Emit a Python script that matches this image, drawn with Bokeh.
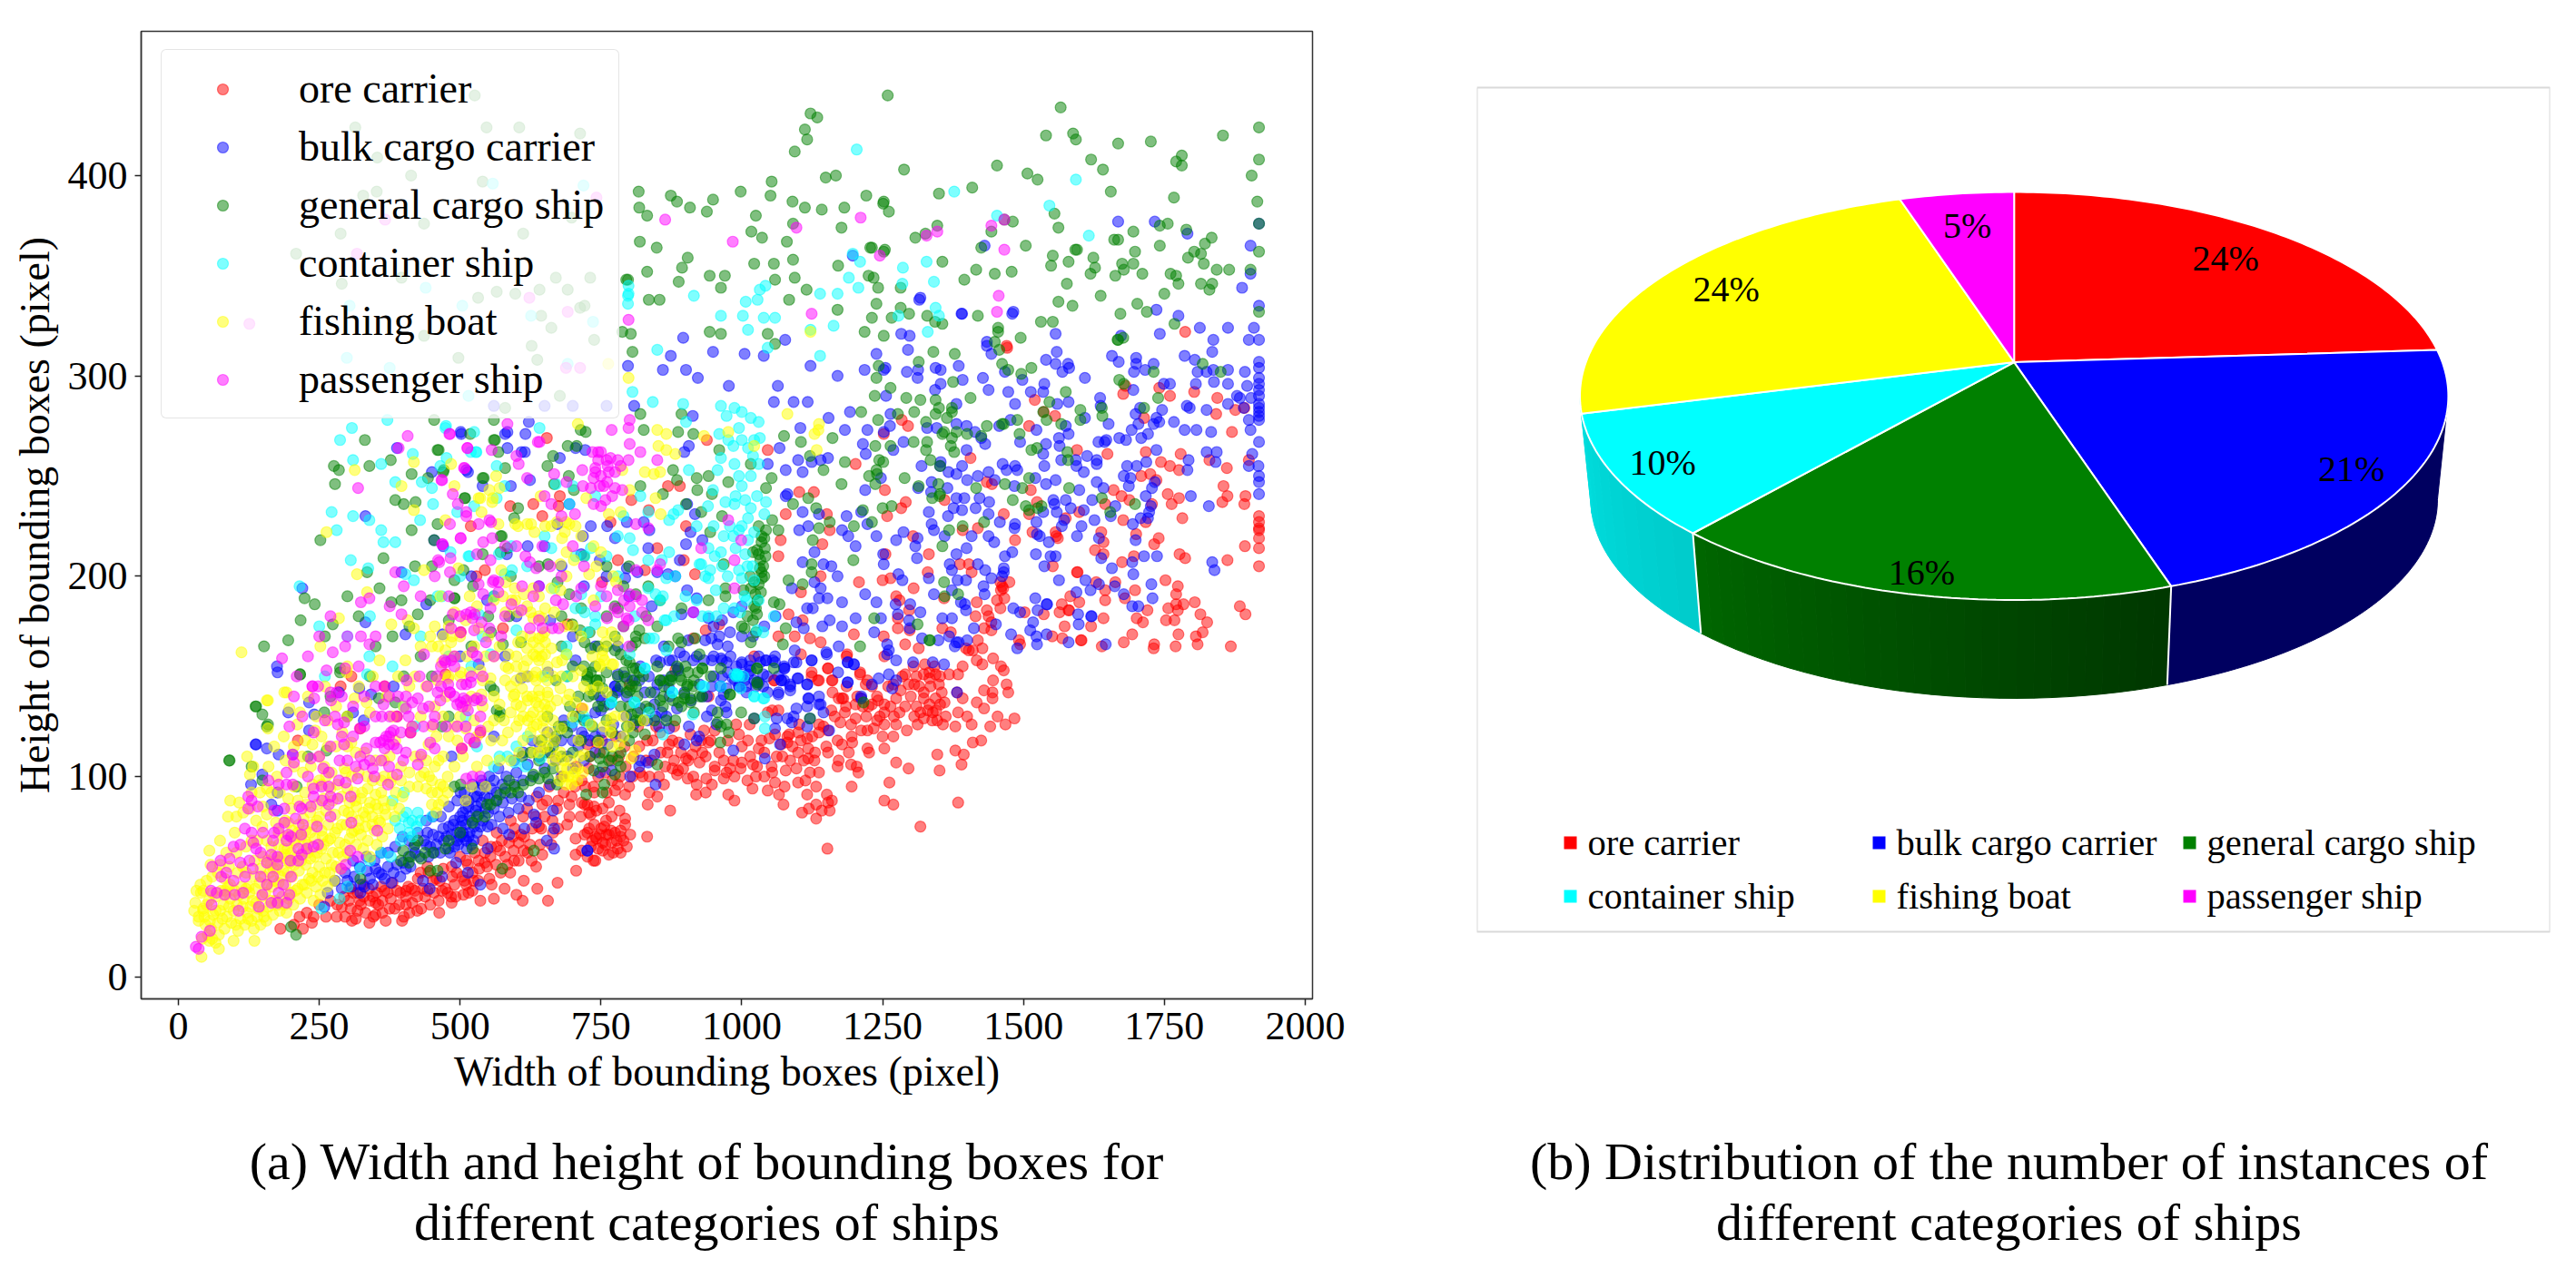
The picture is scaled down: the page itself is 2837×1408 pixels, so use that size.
import math
from bokeh.plotting import figure
from bokeh.layouts import row, column
from bokeh.embed import file_html
from bokeh.resources import INLINE
from bokeh.models import Range1d, Legend, LegendItem, ColumnDataSource, FixedTicker
from bokeh.core.properties import value

CATEGORIES = ["ore carrier", "bulk cargo carrier", "general cargo ship", "container ship", "fishing boat", "passenger ship"]
COLORS = ["#ff0000", "#0000ff", "#008000", "#00ffff", "#ffff00", "#ff00ff"]
PIE_SHARES = [24, 21, 16.4, 9.6, 24, 5]
PIE_LABELS = ["24%", "21%", "16%", "10%", "24%", "5%"]
X_TICKS = [0, 250, 500, 750, 1000, 1250, 1500, 1750, 2000]
Y_TICKS = [0, 100, 200, 300, 400]
CAPTIONS_A = ["(a) Width and height of bounding boxes for", "different categories of ships"]
CAPTIONS_B = ["(b) Distribution of the number of instances of", "different categories of ships"]

ORE = [(1787,322),(1470,315),(1471,314),(1520,288),(1536,282),(1556,280),(1677,291),(1681,295),(1741,294),(1760,290),(1803,292),(1844,289),(1842,281),(1876,283),(1892,284),(1870,272),(1714,279),(1284,278),(1295,275),(1252,271),(1510,275),(1595,263),(1649,261),(1717,262),(1779,261),(1744,257),(1760,255),(1776,253),(1830,258),(1861,254),(1900,258),(1406,259),(1709,250),(1725,251),(1736,248),(1435,247),(1444,246),(1254,243),(1513,243),(1660,243),(1674,240),(1688,238),(1645,236),(1728,236),(1756,241),(1776,239),(1763,236),(1855,245),(1862,240),(1853,237),(1894,240),(1892,236),(1360,238),(1291,237),(1283,234),(1258,230),(1524,237),(1465,231),(1510,231),(1599,232),(1575,229),(1677,228),(1782,229),(1717,227),(1918,230),(1918,227),(1918,224),(1918,223),(1918,219),(1918,214),(1918,205),(1893,215),(1392,223),(1419,224),(1304,220),(1516,222),(1557,222),(1558,220),(1561,219),(1485,218),(1638,222),(1700,221),(1740,219),(1732,216),(1642,217),(1627,213),(1642,211),(1332,211),(1255,211),(1777,211),(1787,209),(1862,208),(1675,207),(1696,210),(1387,206),(1403,206),(1408,202),(1330,202),(1552,205),(1595,202),(1596,202),(1250,198),(1264,199),(1305,194),(1629,197),(1663,197),(1752,198),(1774,195),(1459,197),(1475,197),(1462,195),(1464,194),(1460,193),(1645,193),(1698,193),(1771,191),(1359,189),(1274,190),(1280,188),(1417,187),(1453,188),(1466,189),(1583,190),(1645,188),(1680,189),(1804,187),(1599,187),(1568,186),(1884,185),(1784,186),(1771,186),(1297,183),(1435,183),(1459,184),(1580,183),(1581,183),(1564,182),(1720,183),(1757,184),(1774,183),(1814,181),(1894,181),(1502,182),(1438,180),(1415,180),(1536,181),(1701,179),(1712,177),(1753,178),(1768,178),(1826,177),(1642,179),(1620,175),(1573,175),(1277,179),(1277,174),(1298,173),(1356,174),(1443,177),(1430,174),(1443,173),(1693,171),(1775,171),(1818,172),(1806,170),(1809,166),(1551,170),(1569,169),(1602,168),(1603,168),(1678,167),(1732,166),(1731,164),(1770,165),(1868,165),(1639,165),(1492,168),(1494,166),(1419,168),(1371,172),(1290,166),(1427,164),(1403,163),(1410,163),(1398,164),(1314,164),(1252,170),
(1153,154),(1186,160),(1137,148),(1124,152),(1160,148),(1210,151),(1223,148),(1253,160),(1290,151),(1296,146),(1282,143),(1323,151),(1333,152),(1344,151),(1333,149),(1368,151),(1384,151),(1392,155),(1417,158),(1427,156),(1446,159),(1465,153),(1460,155),(1446,148),(1470,146),(1473,142),(1430,143),(1445,142),(1445,139),(1392,139),(1382,142),(1350,146),(1355,142),(1323,142),(1323,139),(1344,139),(1360,137),(1333,136),(1352,136),(1274,139),(1264,135),(1242,138),(1231,136),(1253,136),(1280,132),(1253,132),(1245,130),(1306,130),(1323,129),(1317,132),(1347,128),(1339,132),(1357,126),(1379,125),(1384,132),(1400,130),(1408,126),(1417,137),(1430,134),(1454,130),(1441,125),(1468,126),(1484,129),(1312,126),(1293,123),(1269,120),(1250,120),(1274,126),(1253,126),(1223,123),(1212,123),(1234,124),(1202,129),(1221,130),(1183,132),(1180,139),(1172,139),(1161,142),(1202,136),(1194,126),(1175,127),(1153,123),(1137,122),(1178,116),(1196,117),(1190,112),(1223,114),(1226,112),(1253,114),(1274,107),(1296,104),(1153,112),(1172,108),(1170,105),(1194,106),(1204,105),(1207,102),(1195,95),(1262,97),(1253,88),(1269,86),(1317,75),(1384,87),(1152,64),(1347,111),(1379,113),(1394,111),(1390,106),(1351,103),(1410,117),(1425,118),
(990,126),(995,121),(1014,126),(1011,118),(1035,118),(1030,114),(1049,119),(1059,121),(1081,120),(1070,116),(1105,118),(1116,119),(1100,112),(1118,114),(1086,108),(1118,109),(1129,108),(1053,105),(1027,105),(1054,102),(1078,103),(1097,104),(1121,102),(1137,102),(1059,97),(1076,95),(1100,97),(1113,98),(1132,95),(1046,93),(1066,91),(1116,91),(1151,91),(1160,88),(1153,87),(1074,86),(1132,86),(1119,84),(1107,82),(1142,83),(1156,83),(1132,79),(1025,100),(1010,98),(1019,94),(987,88),(976,91),(947,96),(936,92),(919,91),(920,96),(904,99),(914,100),(937,99),(968,99),(987,100),(973,102),(998,104),(979,104),(1000,107),(952,105),(952,103),(968,108),(936,110),(925,107),(901,109),(912,111),(887,103),(877,104),(885,101),(896,104),(853,100),(836,100),(862,96),(836,92),(850,90),(833,86),(873,83),(819,102),(877,118),(871,116),(888,117),(909,121),(933,123),(941,117),(952,123),(928,118),(1058,148),(1054,133),(1065,133),(1046,132),(1081,117),(1084,121),(1102,126),(1137,126),(1159,133),(1135,148),(1186,145),(1212,139),(1231,145),(1269,146),(1306,146),
(793,91),(775,93),(780,96),(764,87),(753,84),(729,82),(742,83),(721,86),(783,83),(769,80),(793,79),(759,78),(793,76),(802,71),(832,70),(785,70),(775,72),(764,71),(748,71),(740,70),(729,74),(721,71),(769,67),(753,67),(780,64),(796,65),(764,61),(740,58),(753,63),(732,65),(726,60),(756,75),(785,73),
(673,47),(656,38),(706,53),(637,44),(613,48),(600,41),(611,38),(589,52),(579,44),(560,39),(536,38),(552,49),(544,57),(522,52),(511,46),(506,41),(522,43),(635,55),(627,58),(646,61),(613,63),(595,63),(571,63),(555,65),(533,58),(485,37),(463,32),(431,34),(410,32),(397,28),(362,32),(350,31),(339,27),(308,28),(281,30),(318,33),(302,38),(324,36),(350,37),(377,39),(404,40),(420,43),(388,43),(366,43),(345,40),(329,40),(310,42),(442,43),(468,43),(490,46),(458,49),(485,55),(511,58),(442,55),(425,49),(404,43),(694,80),(672,84),(646,86),(619,84),(705,69),(726,72),(742,69),(716,63),(737,58),(705,61),(662,66),(640,75),(608,71),(587,67),(565,65),(597,74),(726,86),(737,95),(716,87),(732,81),(221,24),(237,27),(181,24),
(654,269),(938,268),(1046,263),(1202,256),(1078,231),(1102,242),(1128,242),(1151,231),(1156,223),(1143,216),(890,245),(869,245),(804,238),(835,233),(767,227),(589,235),(630,236),(677,240),(675,235),(519,225),(646,230),(901,225),(1069,218),(1065,210),(897,208),(917,201),(828,203),(850,214),(780,208),(529,200),(544,203),(752,197),(1208,197),(1140,200),(1105,192),(1083,181),(1108,178),(1121,169),(1140,167),(1199,171),(1065,170),(1094,170),(1187,161),(1105,161),(1153,154),(1124,150),(1210,152),(1057,148),(1178,139),(1220,146),(1161,148),(960,176),(914,169),(936,173),(1022,160),(941,140),(882,153),(576,174),(501,172),(691,176),(474,151),(801,146),(307,150),(288,145),(366,145),(212,118),(323,124),(388,130),(412,122),(503,114),(525,117),(536,122),(742,117),(716,134),(726,116),
(290,35),(296,30),(305,44),(315,29),(322,38),(332,32),(338,44),(346,30),(355,36),(360,45),(368,28),(375,34),(380,47),(392,36),(400,30),(408,45),(415,37),(424,33),(430,52),(438,40),(447,36),(452,48),(462,38),(470,54),(478,42),(486,50),(492,40),(500,60),(508,48),(515,42),(526,62),(532,48),(540,68),(548,55),(556,46),(565,72),(572,52),(580,60),(590,78),(596,58),(604,67),(612,80),(620,62),(628,74),(636,90),(642,66),(650,80),(658,95),(665,72),(674,88),(682,100),(690,76),(698,90),(706,105),(714,80),(722,95),(730,110),(738,85),(745,100),(752,118),(760,92),(768,108),(776,120),(784,100),(792,115),(800,95),(808,110),(816,125),(824,100),(832,118),(840,108),(848,125),(856,112),(864,105),(880,125),(735,68),(745,64),(758,66),(768,73),(778,68),(790,68),(750,74),(738,76),(772,62),(760,71),(785,62),(1300,140),(1310,135),(1335,145),(1345,133),(1362,130),(1330,133),(1315,145),(1338,128),(1352,150),(1342,155),(1325,156),(1310,150),
(205,26),(215,30),(228,32),(240,30),(250,36),(262,30),(270,38),(282,36),(294,40),(306,34),(318,42),(328,46),(340,38),(352,42),(362,38),(372,42),(384,34),(394,42),(404,36),(414,44),(424,40),(434,44),(444,52),(454,42),(464,48),(474,44),(484,40),(494,52),(504,50),(514,56),(524,48),(534,54),(544,62),(554,60),(564,56),(574,68),(584,56),(594,70),(604,58),(614,70),(624,66),(634,80),(644,74),(654,88),(664,78),(674,74),(684,92),(694,86),(704,95),(716,98),(728,104),(738,92),(748,112),(758,102),(770,98),(782,110),(794,105),(806,100),(818,115),(830,108),(842,118),(855,122),(868,112),(880,108),(892,112),(905,108),(918,115),(930,112),(945,118),(960,112),(975,118),(985,108),(1000,115),(1015,110),(1040,112),(1062,110),(1090,115),(1110,108),(1125,120),(1145,125),(1165,130),(1185,135),(1205,140),(1225,135),(1240,140),(1260,145),(1285,150),(1305,155),(1290,135),(1270,130),(1240,128),(1215,135),(1195,120),(1170,118),(1150,115),(1130,112),(1100,122),(1072,110),(1040,100),(1020,106)]

BULK = [(1668,377),(1733,377),(1791,371),(1918,376),(1431,365),(1903,365),(1903,351),(1888,344),(1317,339),(1391,331),(1482,332),(1736,333),(1775,330),(1813,324),(1863,324),(1909,324),(1918,335),(1283,321),(1557,321),(1673,320),(1742,321),(1837,318),(1900,318),(1918,318),(1435,317),
(1295,313),(1239,311),(1255,304),(1293,302),(1313,303),(1312,299),(1344,304),(1353,303),(1385,305),(1392,298),(1353,296),(1343,293),(1381,286),(1256,290),(1438,293),(1428,299),(1435,315),(1443,311),(1467,302),(1498,298),(1473,292),(1485,286),(1513,292),(1535,292),(1537,296),(1540,308),(1559,312),(1557,306),(1569,302),(1579,306),(1581,304),(1609,299),(1657,310),(1669,307),(1700,309),(1700,306),(1731,306),(1716,303),(1696,302),(1786,310),(1804,308),(1835,312),(1809,302),(1825,302),(1837,303),(1863,303),(1838,297),(1863,296),(1806,296),(1893,302),(1897,295),(1580,287),(1560,286),(1636,289),(1695,293),(1760,296),(1749,296),(1879,290),(1884,289),(1904,289),(1790,285),(1795,284),(1825,283),(1863,286),(1891,284),(1746,283),(1736,279),(1707,284),(1699,281),(1704,276),(1731,276),(1741,277),(1692,273),(1721,271),(1709,269),(1682,268),(1670,269),(1647,268),(1644,267),(1633,267),(1651,276),(1609,279),(1637,285),(1767,277),(1786,273),(1807,273),(1833,272),(1918,267),(1903,273),(1900,278),
(1918,307),(1918,304),(1918,299),(1918,296),(1918,293),(1918,290),(1918,286),(1918,284),(1918,282),(1918,280),(1918,278),
(1736,263),(1825,262),(1843,262),(1793,258),(1791,253),(1841,257),(1906,261),(1900,255),(1917,255),(1918,250),(1918,247),(1918,241),(1797,240),(1829,235),(1264,281),(1263,275),(1252,272),(1287,267),(1269,263),(1329,274),(1346,274),(1381,276),(1399,275),(1414,272),(1432,266),(1425,269),(1399,263),(1457,275),(1477,278),(1494,267),(1523,273),(1535,261),(1540,266),(1563,269),(1564,265),(1580,271),(1575,275),(1567,258),(1593,258),(1613,260),(1630,258),(1630,256),(1319,255),(1353,257),(1391,255),(1352,255),(1367,252),(1381,251),(1400,248),(1419,250),(1438,252),(1463,256),(1485,255),(1489,253),(1470,253),(1537,255),(1247,249),(1337,247),(1336,242),(1365,244),(1313,244),(1449,248),(1484,245),(1521,249),(1557,248),(1540,246),(1594,255),(1607,252),(1630,247),(1599,243),(1642,244),(1622,238),(1684,255),(1701,255),(1718,257),(1678,250),(1690,249),(1687,245),(1717,240),(1728,244),(1733,247),(1381,239),(1395,239),(1376,234),(1422,239),(1439,237),(1415,234),(1438,231),(1391,233),(1332,232),(1366,230),(1553,238),(1575,238),(1555,236),(1559,232),(1584,234),(1607,233),(1535,232),(1663,235),(1655,230),(1726,235),(1723,232),(1708,229),(1721,229),(1694,226),(1626,228),(1523,227),(1572,228),(1568,225),(1603,225),(1485,226),(1458,227),(1484,224),(1337,226),(1341,223),(1360,220),(1408,220),(1287,222),(1274,218),(1239,220),(1312,219),(1308,215),(1438,220),(1448,217),(1524,221),(1529,220),(1545,217),(1595,220),(1634,219),(1699,218),(1399,214),(1381,211),(1311,209),(1252,206),(1251,211),(1480,212),(1467,210),(1522,211),(1557,210),(1548,210),(1537,205),(1638,209),(1693,207),(1714,210),(1737,210),(1835,207),(1839,203),(1369,206),(1373,203),(1419,206),(1432,203),(1443,199),(1465,204),(1465,202),(1462,200),(1657,204),(1695,201),(1278,201),(1285,198),(1332,199),(1383,198),(1398,198),(1429,195),(1373,193),(1341,191),(1431,191),(1563,198),(1610,198),(1662,195),(1634,196),(1594,192),(1619,193),(1727,196),(1678,191),(1729,189),(1693,185),(1704,185),(1521,189),(1541,186),(1542,186),(1239,187),(1299,186),(1273,186),(1389,187),(1396,186),(1317,182),(1277,181),(1398,183),(1482,184),(1494,182),(1525,183),(1597,181),(1620,180),(1621,180),(1247,179),(1297,178),(1356,179),(1373,179),(1451,176),(1517,177),(1598,176),(1298,174),(1412,174),(1512,173),(1478,171),(1523,170),(1541,171),(1320,169),(1349,168),(1368,170),(1400,168),(1381,167),(1385,167),(1378,165),(1258,166),(1235,172),(1524,166),(1580,167),(1646,166),(1489,164),(1261,163),
(1124,158),(1151,161),(1188,157),(1199,156),(1304,157),(1359,156),(1339,157),(1274,158),(1258,161),(1171,152),(1188,147),(1243,149),(1231,146),(1261,151),(1274,148),(1267,144),(1382,142),(1212,140),(1043,158),(1059,157),(1033,157),(1014,155),(1000,156),(1092,157),(1076,154),(1070,148),(1086,146),(1065,142),(1086,143),(1100,149),(1116,146),(1038,151),(1011,151),(1008,145),(1038,145),(1027,147),(1046,142),(1119,139),(1137,140),(1140,136),(1116,135),(1145,132),(1097,134),(1092,130),(1081,129),(1089,127),(1062,129),(1059,124),(1116,125),(1121,129),(1155,123),(1022,129),(1068,116),(1041,109),(985,113),(847,96),(947,133),(971,135),(938,130),(955,126),(973,132),(963,138),(947,145),(973,144),(995,145),(1008,142),(984,149),(898,116),(920,118),(924,120),(906,125),(847,130),(866,130),(853,125),(871,124),(845,111),(820,108),(834,107),(818,105),(802,100),(748,102),(769,103),(726,63),(947,158),(963,159),(973,157),(898,160),(914,158),(877,158),(887,153),(850,146),(845,142),(861,148),(775,145),(780,143),(748,140),(750,133),(828,142),(796,140),(818,148),(740,120),(716,122),
(307,45),(323,46),(340,49),(350,54),(366,49),(382,52),(399,57),(409,60),(420,62),(404,54),(447,65),(458,66),(471,68),(485,71),(495,72),(506,70),(517,72),(511,68),(490,65),(479,64),(501,75),(517,80),(528,83),(538,87),(552,89),(533,81),(560,84),(576,87),(592,89),(608,90),(565,92),(549,75),(576,74),(587,71),(614,74),(631,81),(635,77),(665,83),(667,74),(654,68),(667,64),(726,63),(549,64),(514,52),(536,46),(493,57),(468,50),(446,44),(434,48),(323,42),(259,35),(361,51),(442,72),(452,71),(176,152),(232,137),(285,142),(321,144),(342,141),(195,132),(241,131),(310,132),(329,128),(138,116),(157,114),(178,111),(149,101),(129,96),(165,86),(176,83),(203,111),(176,92),(232,123),(382,145),(485,110),(501,92),
(809,285),(913,280),(1057,287),(1092,287),(1117,287),(1154,279),(1192,282),(1183,273),(1104,274),(1067,264),(1100,258),(1078,253),(1108,252),(1153,259),(1140,258),(1220,261),(1223,273),(1215,266),(1078,240),(1108,232),(1137,231),(1186,230),(1219,243),(1212,232),(1102,223),(1118,225),(1129,212),(1108,207),(1145,206),(1159,205),(1170,200),(1129,197),(1140,194),(1089,194),(1137,189),(1152,189),(1178,187),(1126,184),(1116,184),(1219,191),(1178,223),(1189,220),(1202,215),(1223,226),(1202,179),(1156,178),(1143,175),(1178,175),(1110,174),(1097,177),(1172,165),(1124,158),(1188,157),(1150,162),(1199,156),(1094,163),(1070,148),(1116,146),(1086,145),(1065,141),(1188,147),(1118,139),(1137,136),(1212,139),(1099,149),(1075,154),(1075,148),(1046,256),(1124,257),(903,236),(917,231),(909,222),(901,216),(930,218),(826,227),(796,227),(836,223),(834,214),(796,204),(815,202),(850,202),(890,208),(869,201),(882,200),(903,193),(920,189),(941,179),(893,181),(914,182),(793,199),(761,225),(775,219),(718,220),(715,211),(732,225),(748,208),(673,226),(694,236),(624,248),(615,262),(584,272),(584,264),(514,252),(616,271),(622,277),(502,271),(705,264),(722,263),(677,259),(898,262),(906,265),(1097,157),(946,169),(957,166),(979,172),(965,158),(933,158),(1000,157),(1016,153),(1043,158),(1059,160),(1075,155),(1022,148),(995,145),(968,141),(930,140),(1030,147),(855,157),(871,158),(887,154),(871,144),(775,145),(780,151),(705,158),(608,149),(656,152),(1081,241),
(388,264),(501,272),(332,230),(220,194),(332,177),(175,155),(137,116),(396,202),(454,218),(580,271),(609,262),(511,253),(583,211),(403,171),(440,186),(533,156),(469,171),(548,188),(1197,360),(1315,338),(1390,331),(1480,331),(1298,320),(896,319),(949,312),(860,303),(901,303),(1077,318),(874,310),(977,295),(1039,310),(1005,311),(1064,295),(1122,305),(1170,300),(1218,303),(1252,303),(798,305),(922,299),
(300,48),(312,50),(330,45),(335,53),(345,46),(356,52),(372,55),(378,47),(388,56),(394,50),(412,55),(418,65),(428,60),(436,68),(444,60),(454,62),(462,70),(465,62),(476,70),(482,62),(488,76),(497,66),(504,78),(512,64),(520,78),(524,68),(530,85),(536,75),(544,90),(550,82),(556,76),(564,88),(570,80),(580,92),(586,82),(596,96),(604,84),(612,98),(622,88),(630,100),(640,92),(650,104),(660,96),(670,108),(680,100),(690,110),(700,104),(710,115),(720,108),(730,118),(740,112),(752,122),(762,116),(772,126),(785,120),(795,130),(808,126),(820,134),(832,128),(845,136),(858,132),(872,140),(885,134),(898,142),(910,138),(925,146),(938,140),(950,150),(962,145),(975,152),(988,148),(1000,150),(505,72),(515,70),(525,75),(500,70),(510,76),(520,66),(530,72),(540,78),(495,68),(505,82),(515,85),(525,90),(535,93),(545,84),(960,170),(950,160),(965,150),(980,160),(990,155),(1005,148),(1015,158),(1000,170),(975,165),(1030,160),(1045,150),(1055,158),(1065,150),(1025,145),
(265,42),(278,48),(290,44),(296,52),(310,58),(322,55),(334,60),(348,58),(360,62),(372,62),(385,65),(398,70),(410,68),(425,72),(440,78),(452,80),(466,80),(480,85),(495,88),(508,92),(522,96),(538,98),(552,100),(568,104),(582,100),(596,108),(612,112),(628,118),(642,115),(655,122),(668,118),(684,128),(698,125),(712,130),(726,128),(740,132),(752,138),(765,136),(778,142),(792,150),(806,148),(820,155),(835,150),(848,158),(862,165),(876,150),(890,162),(905,168),(920,160),(935,168),(950,175),(965,178),(985,182),(1000,185),(1020,170),(1040,175),(1060,180),(440,66),(470,74),(490,78),(510,84),(530,90),(555,94),(575,96),(600,102),(620,106),(640,110),(660,112),(680,118),(700,118),(720,120),(480,75),(500,80),(515,88),(540,96),(560,98),(600,180),(640,195),(680,205),(720,195),(760,200),(800,190),(840,185),(700,170),(660,178),(740,165),(780,165),(560,120),(620,150),(580,160),(500,160),(520,200),(470,215),(620,215),(650,215),(540,245),(590,245),(450,252),(560,285),(650,285),(700,285),(760,285)]

GENERAL = [(1259,440),(1566,434),(1540,420),(1588,421),(1593,418),(1668,416),(1726,417),(1854,420),(1918,424),(1918,408),(1905,400),(1781,410),(1771,407),(1781,405),(1620,408),(1641,403),(1655,392),(1767,389),(1915,387),(1507,401),(1525,398),(1453,405),(1288,403),(1409,394),(1350,391),(1252,387),(1261,382),(1555,381),(1562,374),(1918,376),(1347,375),(1326,371),(1308,369),(1443,372),(1481,377),(1466,378),(1425,364),(1504,365),(1254,363),(1231,364),(1552,360),(1549,355),(1580,357),(1595,363),(1592,363),(1624,359),(1627,354),(1619,351),(1663,350),(1675,356),(1678,353),(1695,356),(1698,362),(1695,372),(1661,368),(1668,368),(1742,365),(1742,375),(1756,376),(1789,373),(1834,369),(1822,366),(1815,361),(1803,362),(1792,359),(1820,356),(1843,353),(1865,353),(1918,362),(1903,353),(1761,351),(1771,350),(1775,346),(1815,346),(1835,346),(1830,343),(1711,351),(1750,341),(1637,340),(1577,346),(1562,337),(1587,335),(1702,336),(1719,332),(1672,331),(1768,326),(1918,332),(1531,327),(1552,327),(1455,324),(1455,322),(1495,319),(1449,317),(1667,318),(1668,318),(1677,319),(1479,352),(1449,351),(1416,353),(1395,348),(1356,357),(1242,344),(1234,349),(1282,344),(1282,334),(1297,331),(1329,330),(1343,327),(1356,326),(1419,330),(1252,320),(1231,329),
(1340,312),(1378,311),(1314,307),(1243,305),(1239,299),(1457,313),(1462,306),(1473,303),(1514,304),(1496,301),(1264,294),(1292,289),(1317,288),(1236,290),(1344,288),(1406,289),(1375,297),(1350,284),(1344,281),(1373,284),(1373,282),(1364,279),(1306,282),(1277,281),(1242,278),(1327,277),(1435,275),(1465,276),(1489,278),(1359,272),(1356,271),(1381,272),(1400,271),(1373,269),(1425,270),(1493,271),(1462,276),(1567,276),(1541,278),(1535,282),(1546,287),(1575,292),(1601,283),(1601,278),(1639,284),(1640,280),(1670,298),(1678,296),(1739,289),(1731,302),(1714,284),(1818,306),(1850,302),(1305,267),(1329,267),(1327,263),(1377,262),(1371,265),(1237,265),(1264,265),(1514,263),(1524,264),(1578,262),(1579,258),(1335,258),(1244,258),(1251,257),(1239,253),(1240,251),(1289,249),(1237,246),(1314,245),(1352,255),(1349,246),(1352,241),(1351,240),(1338,239),(1416,244),(1467,246),(1498,244),(1510,249),(1481,238),(1581,244),(1504,235),(1510,233),(1525,234),(1532,235),(1639,239),(1654,232),(1698,236),(1266,235),(1250,234),(1231,227),(1430,227),(1368,223),(1392,225),(1356,215),(1359,197),(1384,191),(1360,190),(1312,176),(1235,179),(1333,168),(1334,168),
(560,278),(462,263),(562,268),(568,262),(665,260),(655,255),(580,254),(542,249),(471,253),(509,239),(603,234),(596,229),(574,220),(506,203),(490,189),(523,195),(584,214),(572,212),(693,250),(667,246),(702,243),(714,273),(723,272),(691,265),(707,265),(820,281),(826,273),(887,272),(893,281),(914,271),(960,263),(820,245),(860,241),(878,253),(885,248),(920,249),(941,250),(921,243),(947,241),(901,236),(928,232),(965,230),(976,247),(1043,244),(1053,249),(1054,228),(1065,223),(1016,256),(1075,270),(1105,267),(1121,260),(1145,253),(1161,269),(1183,257),(1212,282),(1226,250),(1177,246),(1091,236),(1118,239),(1132,234),(1156,227),(1199,225),(1215,233),(1137,224),(1126,218),(1198,208),(1124,206),(1124,202),(1083,198),(1108,196),(1057,187),(1067,186),(1078,174),(1210,165),
(1043,223),(1035,217),(1041,214),(1033,208),(1035,202),(1030,196),(1024,191),(1022,185),(1027,181),(1035,220),(1027,213),(1038,205),(1022,197),(1016,194),(1003,193),(1040,219),(1030,211),(1036,199),(1028,188),(1025,184),(1032,204),(1042,210),(1034,192),(1020,178),(968,206),(971,194),(941,188),(971,190),(944,222),
(812,170),(812,167),(818,173),(721,167),(732,164),(713,173),(699,176),(785,161),(801,157),(812,154),(791,152),(810,148),(801,143),(742,148),(726,151),(753,144),(737,141),(855,148),(871,148),(893,148),(903,145),(898,139),(909,137),(925,161),(930,154),(917,169),(1073,166),(1005,174),(1016,167),(963,154),(1027,154),(1027,147),(979,141),(828,169),(887,169),(893,167),(893,184),(855,188),(834,195),(812,191),(780,184),(715,184),(694,191),(673,197),(656,206),(587,180),(560,190),(576,166),(608,167),(775,163),
(807,154),(818,152),(796,149),(748,148),(732,152),(737,145),(796,142),(812,145),(855,148),(874,148),(904,146),(914,145),(898,141),(909,139),(888,137),(893,135),(930,154),(922,152),(861,140),(855,138),(836,134),(804,131),(812,128),(796,125),(807,122),(828,121),(866,128),(882,128),(963,125),(973,126),(957,127),(977,122),(962,117),(979,141),(957,132),(1027,154),(1057,154),(1028,146),(1022,129),(1121,129),(1216,137),(999,132),(748,109),(764,108),(780,108),(785,105),(753,105),(737,103),(775,101),(756,96),(753,92),(724,91),(850,106),
(597,95),(587,98),(603,92),(571,91),(554,86),(544,80),(522,77),(640,99),(656,99),(672,96),(630,101),(501,96),(490,95),(565,133),(570,130),(554,145),(726,150),(742,148),(460,53),(447,53),(474,64),(409,57),(420,66),(399,63),(323,49),(575,54),(631,63),(431,59),(522,64),(209,21),(200,25),(91,108),(138,135),(149,131),(157,125),(130,105),(149,98),(216,151),(287,152),(263,113),(259,132),(385,137),(356,139),(468,125),(560,143),(571,132),
(314,424),(353,409),(413,400),(328,390),(352,392),(540,397),(547,424),(605,424),(713,421),(526,440),(436,376),(698,379),(612,371),(288,371),(209,361),(290,346),(396,349),(532,339),(565,342),(598,341),(641,343),(691,343),(670,349),(731,349),(644,330),(713,334),(721,335),(662,324),(738,318),(436,320),(627,315),(497,309),(637,308),(580,284),(677,290),(454,278),(518,271),(331,268),(560,268),(460,263),(276,255),(285,253),(339,255),(377,258),(414,251),(278,246),(443,249),(470,252),(540,249),(385,238),(400,236),(421,237),(508,239),(414,223),(460,226),(454,218),(252,218),(364,209),(572,220),(540,211),(335,202),(357,194),(490,198),(224,189),(242,186),(217,178),(274,176),(490,189),(195,168),(152,165),(287,154),(216,151),(378,187),(396,188),(425,181),(447,188),(795,348),(803,321),(788,322),(806,312),(555,172),(137,135),(159,126),(90,108),
(1122,431),(1134,429),(1112,423),(1116,418),(1094,412),(1167,400),(1149,399),(1053,397),(1051,390),(998,392),(949,388),(874,390),(885,387),(908,384),(938,382),(817,392),(818,384),(832,380),(1025,380),(1017,372),(1036,369),(1090,387),(1112,384),(1142,383),(1182,384),(1221,390),(1251,386),(1091,376),(1177,374),(1080,367),(819,367),(849,364),(904,359),(894,354),(832,352),(888,347),(798,348),(943,350),(970,350),(1022,356),(1057,356),(1091,358),(1171,355),(1228,364),(1252,362),(1059,348),(1094,349),(1225,350),(835,338),(854,338),(963,344),(1084,338),(1115,343),(1170,333),(1239,336),(943,322),(963,321),(1046,321),(1059,316),(1218,322),(1266,329),
(395,58),(412,60),(425,68),(438,62),(452,62),(480,68),(500,72),(530,80),(548,86),(565,88),(580,94),(590,92),(612,96),(625,98),(650,102),(665,104),(680,110),(690,122),(705,130),(720,128),(735,125),(728,140),(745,135),(760,128),(770,122),(785,135),(795,158),(805,145),(815,140),(825,150),(838,142),(850,155),(862,145),(878,138),(890,150),(905,152),(915,132),(925,140),(700,112),(715,118),(730,110),(745,118),(755,112),(770,110),(785,112),(800,118),(820,128),(760,165),(775,170),(790,175),(805,165),(730,172),(745,165),(760,152),(780,150),(700,155),(690,150),(680,165),(720,155),(670,148),(655,130),(645,118),(665,115),(675,125),
(610,110),(625,112),(640,108),(655,112),(670,120),(685,125),(695,135),(710,140),(725,148),(740,155),(755,135),(770,140),(785,145),(800,135),(815,132),(830,135),(845,128),(860,135),(875,150),(885,155),(900,155),(915,148),(930,140),(945,150),(760,180),(775,185),(790,195),(830,180),(850,175),(870,165),(800,205),(760,205),(720,210),(680,180),(640,205),(590,200),(550,180),(520,165),(480,178),(450,205),(420,205),(430,160),(410,175),(380,170),(350,165),(320,180),(300,190),(480,130),(450,150),(400,150),(340,150),(300,130),(260,170),(270,140),(230,110),(210,95),(1000,175),(1010,180),(1015,200),(1020,212),(1040,200),(1030,225),(1025,172)]

CONTAINER = [(1377,392),(1593,398),(1546,385),(1453,380),(1616,370),(1328,357),(1286,354),(1285,346),(1341,347),(1344,334),(1350,330),(1278,330),(1330,322),
(308,274),(287,268),(310,258),(360,256),(416,261),(385,247),(450,244),(432,247),(465,255),(452,236),(429,228),(519,262),(529,262),(272,232),(281,223),(339,228),(360,223),(364,217),(385,217),(306,208),(483,212),(515,210),(569,211),(591,215),(619,205),(418,198),(403,201),(215,195),(337,204),(339,160),(335,151),(558,396),(719,395),(439,344),(504,335),(304,335),(626,330),(736,327),(299,309),(375,304),(515,290),(691,306),(371,278),(475,275),(641,274),(799,341),(799,345),(806,292),
(963,285),(987,284),(1000,282),(973,280),(1016,279),(1030,277),(995,274),(960,271),(1000,268),(1022,268),(1011,264),(1032,269),(976,268),(963,259),(987,256),(1030,256),(995,250),(1016,250),(957,253),(949,243),(971,237),(989,240),(1006,238),(1027,240),(1043,237),(987,236),(1016,234),(1040,231),(1011,229),(979,225),(995,223),(1022,222),(968,220),(1011,218),(941,214),(963,212),(989,214),(952,210),(1006,211),(1019,205),(925,206),(944,203),(941,199),(995,203),(1000,199),(954,193),(1022,198),(1008,188),(1030,188),(987,184),(997,182),(968,184),(1057,180),(1038,172),(1027,173),
(906,253),(887,233),(879,231),(871,228),(871,212),(858,208),(928,206),(834,208),(847,191),(855,188),(863,178),(920,188),(882,200),(866,199),(834,194),(807,213),(801,219),(721,210),(732,214),(705,210),(694,236),(834,232),(896,286),(901,277),(842,287),(517,210),(525,272),(528,262),(474,274),(476,259),(565,255),(579,245),(670,246),(495,232),(525,235),(565,239),(579,201),(592,203),(662,214),(667,194),(715,191),(705,184),(750,190),(721,182),(866,178),(836,169),(844,169),(801,161),(866,163),(828,154),(877,142),(930,145),(992,151),(987,151),(995,150),(1022,140),(1040,139),(810,137),(769,137),(941,180),(600,173),(689,165),(689,161),(554,161),(468,190),(533,181),(726,172),(740,176),
(992,151),(990,150),(1003,150),(1038,139),(1022,140),(1041,130),(1041,124),(998,144),(963,145),(933,145),(877,142),(828,154),(768,137),(809,137),(835,132),(913,131),(860,121),
(584,110),(570,110),(597,107),(643,109),(616,105),(415,78),(409,77),(423,75),(399,80),(393,74),(377,60),(323,54),(286,39),(254,34),(700,127),(726,127),(405,82),(415,70),(385,78),(395,68),(425,82),(410,72),
(1204,413),(1197,361),(1210,357),(1207,344),(1190,349),(1170,341),(1139,341),(1042,345),(1032,343),(1028,338),(1007,337),(798,340),(798,336),(915,340),(963,330),(1002,330),(1039,329),(1011,323),(1059,329),(1046,314),(1122,323),(1163,325),(1139,310),(850,313),
(600,115),(620,120),(650,150),(690,150),(720,130),(740,180),(760,210),(780,200),(790,230),(820,240),(810,180),(860,190),(880,180),(900,190),(930,180),(920,225),(940,235),(1000,225),(1000,245),(1020,260),(985,265),(975,200),(955,180),(1005,190),(1010,205),(985,220),(965,205),(935,200),(950,225),(540,170),(520,155),(480,160),(430,170),(460,190),(500,200),(560,190),(420,125),(400,135),(380,155),(450,80),(430,78),(400,92),(380,88),(360,62),(340,58),(300,45),(560,105),(530,115),(510,130),(650,220),(700,245),(740,240),(780,220),(260,150),(300,170),(340,180),(310,230),(250,175)]

FISHING = [(36,30),(48,26),(44,34),(58,24),(62,31),(54,38),(40,42),(30,37),(70,27),(74,33),(66,40),(82,24),(86,30),(80,36),(76,43),(94,27),(98,33),(92,39),(88,45),(106,23),(110,29),(104,36),(100,43),(118,26),(122,32),(116,39),(112,45),(130,28),(134,24),(128,35),(126,42),(140,30),(138,37),(136,44),(146,26),(150,33),(148,40),(144,47),(52,21),(60,19),(72,21),(32,43),(28,33),(42,19),(41,10),(72,14),(98,18),(135,18),(66,17),(55,18),
(156,28),(160,35),(154,42),(152,50),(168,31),(172,38),(166,45),(162,52),(158,58),(180,33),(184,40),(178,47),(174,54),(170,60),(192,32),(196,39),(190,46),(186,53),(182,60),(178,66),(204,36),(208,43),(202,50),(198,57),(194,64),(190,70),(216,39),(220,46),(214,53),(210,60),(206,67),(202,73),(228,42),(232,49),(226,56),(222,63),(218,70),(214,76),(240,38),(244,45),(238,52),(234,59),(230,66),(226,73),(222,79),(252,41),(256,48),(250,55),(246,62),(242,69),(238,76),(234,82),(264,45),(268,52),(262,59),(258,66),(254,73),(250,80),(246,86),(276,48),(280,55),(274,62),(270,69),(266,76),(262,83),(258,89),(288,54),(292,60),(286,67),(282,74),(278,81),(274,88),(270,94),
(300,62),(304,69),(298,76),(294,83),(290,90),(316,66),(312,73),(308,80),(304,87),(300,94),(328,64),(324,71),(320,78),(316,85),(312,92),(340,60),(336,68),(332,75),(328,82),(324,89),(352,66),(348,73),(344,80),(340,87),(336,94),(362,70),(358,77),(354,84),(350,91),(372,74),(368,81),(364,88),(384,80),(378,86),(392,84),(386,92),(376,97),(398,90),
(640,140),(650,136),(645,130),(655,142),(635,148),(660,135),(630,132),(648,124),(665,128),(625,122),(620,138),(610,144),(600,148),(595,140),(590,132),(605,128),(585,122),(612,118),(630,112),(648,114),(668,118),(680,124),(690,138),(700,130),(710,118),(665,108),(680,104),(692,100),(704,102),(698,96),(688,96),(676,98),(710,104),(570,136),(560,128),(575,118),(555,118),(548,108),
(420,110),(436,102),(450,98),(460,92),(450,86),(470,88),(440,94),(430,110),(462,108),(478,100),(444,116),(458,120),(470,130),(480,120),(495,118),(510,124),(525,128),(505,110),(490,105),(475,140),(455,135),(430,130),(415,125),(400,135),(385,118),(375,110),(395,105),(365,100),(410,95),(380,130),(540,135),(530,105),(545,95),(520,95),(510,88),(500,150),(480,150),(460,148),(440,145),(420,150),
(192,142),(157,138),(197,134),(216,132),(159,124),(187,120),(122,110),(170,115),(133,105),(211,126),(243,123),(254,120),(313,139),(334,137),(238,116),(92,88),(108,87),(88,80),(103,80),(74,68),(55,63),(57,56),(74,56),(138,78),(149,75),(127,84),(157,81),(195,89),(205,95),(221,102),(157,94),(127,101),(291,122),(340,132),(307,117),(259,105),(254,96),(297,102),(44,43),(39,46),(82,49),(114,55),(146,54),(168,54),(103,62),(135,58),(195,58),(157,68),(130,68),(92,46),(125,45),(44,33),(36,28),(82,43),(195,77),(173,77),(205,68),(189,61),(227,86),
(709,276),(850,273),(866,271),(852,265),(866,263),(882,261),(1137,276),(1129,271),(1133,263),(1081,281),(1022,265),(976,272),(933,270),(844,251),(855,252),(828,252),(788,253),(801,243),(847,239),(856,231),(785,232),(764,231),(643,240),(724,239),(484,256),(564,250),(552,243),(570,244),(536,239),(557,237),(490,245),(538,232),(568,226),(474,228),(603,225),(619,226),(632,222),(651,225),(672,227),(694,226),(686,222),(705,225),(681,219),(715,220),(737,215),(750,212),(689,212),(702,208),(678,206),(689,200),(742,205),(729,201),(772,200),(777,197),(678,193),(737,188),(517,190),(573,203),
(581,197),(597,194),(613,191),(576,190),(560,188),(592,188),(630,194),(640,190),(619,185),(651,184),(646,179),(581,182),(603,182),(630,179),(662,194),(667,182),(640,164),(630,167),(651,167),(640,169),(630,161),(651,161),(640,158),(619,158),(662,164),(672,157),(646,170),(619,164),(603,167),(586,161),(586,154),(613,155),(640,143),(619,140),(597,141),(656,140),(678,144),(694,141),(635,137),(608,135),(672,138),(705,137),(554,149),(538,141),(581,155),(753,172),(759,167),(753,163),(756,158),(780,168),(748,155),(772,156),(715,153),(769,172),(484,167),(474,163),(490,160),(468,157),(501,152),(479,149),(517,152),(536,153),(681,158),(689,161),
(769,156),(753,160),(748,156),(732,143),(718,134),(768,129),(767,125),(767,122),(790,120),(783,116),(811,113),(804,109),(826,128),(732,126),(746,117),(720,111),(718,102),
(112,162),(313,253),(418,257),(396,245),(263,222),(418,233),(558,239),(533,239),(598,226),(626,226),(688,227),(662,225),(763,306),(799,299),(598,188),(317,201),(436,203),(335,192),(407,178),(378,176),(252,165),(285,179),(497,204),(486,170),(357,158),(188,142),(299,152),(159,138),(418,174),(533,174),(447,170),(461,165),(403,158),(512,160),(1122,322),(1136,273),
(46,30),(56,28),(66,33),(50,36),(60,42),(78,29),(90,35),(84,41),(102,26),(114,35),(108,41),(124,29),(120,44),(132,38),(142,34),(152,30),(164,38),(158,46),(176,36),(170,48),(188,36),(182,50),(200,42),(194,52),(212,44),(206,56),(224,46),(218,58),(236,48),(230,62),(248,50),(242,60),(260,52),(254,64),(272,56),(266,68),(284,62),(278,72),(296,66),(290,76),(308,72),(302,82),(320,74),(314,88),(332,80),(326,92),(344,76),(338,84),(356,78),(350,86),(366,84),(360,92),(246,78),(256,70),(234,72),(224,68),(212,72),(200,62),(188,64),(176,58),(164,56),
(640,135),(648,128),(636,126),(655,133),(625,130),(660,122),(640,118),(652,120),(690,104),(700,100),(684,108),(695,108),(708,98),(712,110),(678,112),(628,140),(612,130),(600,136),(590,145),(578,128),(450,92),(445,100),(455,105),(465,96),(440,108),(430,100),(470,95),(458,82),(462,86),(478,92),(635,160),(645,160),(650,172),(625,170),(655,155),(630,150),(645,150),
(120,52),(135,50),(150,60),(165,65),(178,72),(190,78),(200,84),(212,88),(225,92),(238,96),(250,98),(262,100),(272,102),(282,96),(295,104),(308,100),(320,102),(335,100),(345,98),(360,98),(380,100),(395,98),(410,102),(425,95),(365,108),(350,108),(330,112),(315,112),(300,115),(280,115),(265,115),(250,110),(235,105),(220,110),(205,115),(190,108),(175,100),(160,105),(145,92),(130,92),(115,82),(100,72),(85,62),(70,52),(60,50),(50,48),(120,65),(105,52),(90,55),(140,68),(150,85),(165,92),(180,92),(205,105),(225,118),(245,130),(265,128),(280,135),(300,130),(320,145),(345,150),(370,140),(390,150),(410,145),(300,155),(260,145),(230,140),(430,165),(450,165),(470,170),(490,182),(510,178),(530,185),(550,170),(570,165),(600,160),(610,170),(625,182),(640,180),(655,148),(665,150),(680,150),(635,152),(620,150),(610,150),(600,125),(620,128),(630,125),(640,112),(655,115),(670,110),(685,100),(500,130),(520,140),(540,148),(560,140),(580,148),(600,155),(450,125),(470,110),(490,125),(510,135),(530,120),(550,125),(570,108),(590,108),(605,112),(560,160),(545,160),(525,165),(500,170),(480,175),(465,190),(455,175),(700,150),(720,145),(735,160),(715,170),(700,175),(685,175),(745,145),(760,142),(775,130),(790,130),(800,125),(770,115),(755,125)]

PASSENGER = [(1328,370),(1347,372),(1443,375),(1466,378),(1466,363),(1245,360),(1456,340),(1453,332),
(31,15),(36,14),(41,20),(56,23),(59,36),(107,33),(143,35),(165,37),(176,37),(192,37),(197,41),(178,42),(149,41),(115,42),(100,41),(82,41),(68,42),(58,43),(157,46),(186,46),(98,48),(118,50),(76,50),(146,50),(168,50),(200,50),(132,54),(110,57),(91,59),(98,65),(126,58),(157,57),(176,56),(176,60),(199,58),(213,58),(219,61),(228,64),(213,64),(165,61),(146,62),(133,67),(138,64),(168,68),(192,68),(178,74),(195,71),(218,71),(246,75),(248,66),(240,65),(118,74),(208,79),(221,76),(188,77),(188,84),(219,84),(270,80),(307,77),(353,73),(305,63),(318,60),(297,56),(289,54),(124,90),(130,88),(141,85),(124,84),(170,83),
(160,98),(178,96),(192,96),(203,96),(192,102),(205,107),(235,109),(203,111),(257,104),(267,102),(240,94),(254,95),(267,95),(240,90),(267,86),(283,89),(306,90),(297,97),(318,99),(348,100),(372,96),(286,108),(294,116),(323,110),(340,108),(334,114),(350,117),(364,118),(374,120),(382,123),(374,116),(388,114),(404,112),(399,108),(374,105),(388,101),(425,106),(431,111),(455,114),(447,117),(503,114),(527,117),(536,123),(517,119),(522,100),(536,100),(511,99),(412,122),(322,124),(283,126),(278,130),(294,127),(197,125),(238,145),(248,145),(241,139),(271,138),(270,142),(358,117),(369,120),(382,116),(366,114),(377,122),
(361,130),(364,136),(388,130),(409,130),(404,134),(415,137),(425,139),(404,140),(434,134),(442,145),(428,150),(458,150),(460,142),(482,142),(374,140),(366,145),(452,126),(495,136),(506,139),(530,139),(514,133),(536,130),(503,146),(519,147),
(584,276),(482,271),(513,264),(556,263),(600,260),(604,256),(638,267),(507,254),(467,248),(667,251),(689,247),(717,253),(745,262),(745,258),(767,259),(740,254),(780,258),(801,266),(769,273),(801,278),(799,274),(820,262),(799,258),(850,258),(764,252),(737,249),(761,247),(775,244),(748,245),(732,244),(788,243),(758,238),(750,235),(737,236),(718,245),(487,241),(496,236),(511,230),(482,226),(533,226),(552,228),(662,236),(704,231),(501,219),(469,216),(557,219),(541,217),(530,211),(554,208),(483,209),(482,202),(463,207),(616,210),(624,207),(635,204),(646,215),(812,226),(834,224),(812,203),(850,203),(855,206),(928,214),(976,228),(999,218),(987,208),(987,194),(914,182),(715,194),(683,186),(670,188),(706,190),(630,190),(591,186),(609,183),(568,197),(560,198),(541,191),(568,192),(554,184),(519,182),(522,179),(538,177),(487,181),(525,173),(552,174),(546,167),(573,170),(640,178),(646,174),(624,174),(664,174),(675,174),(522,162),(484,174),(501,172),
(780,193),(801,191),(812,190),(791,188),(774,184),(801,185),(823,188),(796,179),(780,182),(761,179),(823,182),(834,178),(799,178),(474,157),(484,158),(490,155),(466,155),(479,146),(511,146),(511,138),(501,137),(525,138),(538,138),(466,145),(482,142),
(317,361),(367,378),(742,389),(623,339),(691,332),(799,328),(126,326),(713,304),(688,304),(407,270),(391,264),(481,271),(513,264),(641,267),(508,254),(319,244),(468,248),(619,249),(511,232),(501,219),(555,227),(468,216),(461,208),(385,202),(558,197),(533,196),(324,187),(339,189),(396,181),(511,181),(526,181),(324,170),(339,166),(296,165),(274,162),(184,159),(263,153),(296,154),(238,145),(281,142),(436,161),(472,158),(490,160),(504,135),
(1097,374),(984,367),(864,378),(1124,331),(1211,379),
(200,70),(170,72),(150,72),(130,72),(110,66),(85,52),(75,58),(60,55),(215,85),(235,85),(255,88),(270,90),(285,98),(300,108),(315,105),(330,106),(345,104),(360,108),(230,100),(250,110),(270,115),(290,120),(310,120),(330,125),(350,130),(375,130),(395,122),(415,125),(435,125),(455,130),(475,125),(495,125),(510,125),(465,138),(445,135),(390,140),(405,148),(330,140),(350,145),(310,135),(290,140),(260,128),(240,122),(220,130),(205,140),(210,150),(230,160),(250,170),(270,180),(300,170),(320,155),(350,170),(375,185),(400,195),(430,190),(455,200),(480,190),(500,180),(530,160),(560,160),(540,150),(520,150),(490,140),(580,180),(610,195),(640,195),(660,205),(680,200),(720,205),(750,195),(600,215),(580,215),(650,240),(680,230),(700,215),(740,185),(760,190),(790,175),(800,165),(740,252),(760,258),(775,252),(750,262),(735,262),(755,245),(770,240),(785,255),(750,250),(762,255)]

SERIES = [ORE, BULK, GENERAL, CONTAINER, FISHING, PASSENGER]
SERIF = "Liberation Serif"

# ---------- (a) scatter ----------
p1 = figure(width=1508, height=1230, output_backend="svg", toolbar_location=None,
            x_range=Range1d(-66, 2013), y_range=Range1d(-11, 472),
            min_border_left=155, min_border_right=63, min_border_top=34, min_border_bottom=130,
            background_fill_color="white", border_fill_color="white")
p1.grid.visible = False
p1.outline_line_color = "#333333"
p1.outline_line_width = 1.5
for ax, ticks in ((p1.xaxis, X_TICKS), (p1.yaxis, Y_TICKS)):
    ax.ticker = FixedTicker(ticks=ticks)
    ax.minor_tick_line_color = None
    ax.major_tick_in = 0
    ax.major_tick_out = 7
    ax.major_tick_line_color = "#222222"
    ax.major_tick_line_width = 1.5
    ax.axis_line_color = "#333333"
    ax.axis_line_width = 1.5
    ax.major_label_text_font = SERIF
    ax.major_label_text_font_size = "44px"
    ax.major_label_text_color = "black"
    ax.major_label_standoff = 8
    ax.axis_label_text_font = SERIF
    ax.axis_label_text_font_style = "normal"
    ax.axis_label_text_font_size = "46px"
    ax.axis_label_text_color = "black"
p1.xaxis.axis_label = "Width of bounding boxes (pixel)"
p1.yaxis.axis_label = "Height of bounding boxes (pixel)"
p1.xaxis.axis_label_standoff = 7
p1.yaxis.axis_label_standoff = 8
p1.xaxis.major_label_overrides = {t: str(t) for t in X_TICKS}

items = []
for name, color, pts in zip(CATEGORIES, COLORS, SERIES):
    src = ColumnDataSource(dict(w=[a for a, _ in pts], h=[b for _, b in pts]))
    r = p1.scatter("w", "h", source=src, size=12, marker="circle", fill_color=color, fill_alpha=0.5,
                   line_color=color, line_alpha=0.5, line_width=1.2)
    items.append(LegendItem(label=name, renderers=[r]))

legend = Legend(items=items, location=(22, 639), orientation="vertical",
                label_text_font=SERIF, label_text_font_size="46px", label_text_color="black",
                label_height=46, label_standoff=33, glyph_width=102, glyph_height=30,
                spacing=11, padding=16, margin=0,
                background_fill_color="white", background_fill_alpha=0.8,
                border_line_color="#cccccc", border_line_width=1.5, border_radius=6)
p1.add_layout(legend)

# ---------- (b) 3-D pie ----------
p2 = figure(width=1321, height=1230, output_backend="svg", toolbar_location=None,
            x_range=Range1d(1626, 2808), y_range=Range1d(1100, 34),
            x_axis_location=None, y_axis_location=None,
            min_border_left=118, min_border_right=21, min_border_top=34, min_border_bottom=130,
            background_fill_color="white", border_fill_color="white")
p2.grid.visible = False
p2.outline_line_color = None
p2.line([1626, 2808, 2808, 1626, 1626], [96, 96, 1026, 1026, 96], line_color="#d9d9d9", line_width=2)

CX, CY_TOP, CY_BOT = 2217.7, 398.6, 513.5
RX, RY, PERSP, BOT_SCALE = 471.6, 218.6, 0.1655, 0.975

def project(deg, radius=1.0, cy=CY_TOP, scale=1.0):
    t = math.radians(deg)
    d = 1 + PERSP * radius * math.cos(t)
    return (CX + scale * RX * radius * math.sin(t) / d,
            cy - scale * RY * radius * math.cos(t) / d)

def arc(a, b, cy=CY_TOP, scale=1.0, step=1.0):
    n = max(2, int(abs(b - a) / step) + 1)
    return [project(a + (b - a) * i / (n - 1), 1.0, cy, scale) for i in range(n)]

total = sum(PIE_SHARES)
edges = [0.0]
for s in PIE_SHARES:
    edges.append(edges[-1] + 360.0 * s / total)

SIL_R = math.degrees(math.acos(-PERSP))
SIL_L = 360 - SIL_R

def side_patch(a, b, color):
    top = arc(a, b)
    bot = arc(a, b, CY_BOT, BOT_SCALE)
    pts = top + bot[::-1]
    p2.patch([q[0] for q in pts], [q[1] for q in pts], fill_color=color, line_color=color, line_width=1)

side_patch(SIL_R, edges[2], "#000060")
N_STRIP = 30
for i in range(N_STRIP):
    a = edges[2] + (edges[3] - edges[2]) * i / N_STRIP
    b = edges[2] + (edges[3] - edges[2]) * (i + 1) / N_STRIP
    g = int(56 + (102 - 56) * i / (N_STRIP - 1))
    side_patch(a, b, "#00%02x00" % g)
for i in range(10):
    a = edges[3] + (SIL_L - edges[3]) * i / 10
    b = edges[3] + (SIL_L - edges[3]) * (i + 1) / 10
    c = int(204 + (222 - 204) * i / 9)
    side_patch(a, b, "#00%02x%02x" % (c, c))
for e in (edges[2], edges[3]):
    t, b = project(e), project(e, 1.0, CY_BOT, BOT_SCALE)
    p2.line([t[0], b[0]], [t[1], b[1]], line_color="white", line_width=2)

for i, color in enumerate(COLORS):
    pts = [(CX, CY_TOP)] + arc(edges[i], edges[i + 1])
    p2.patch([q[0] for q in pts], [q[1] for q in pts], fill_color=color, line_color="white", line_width=2)

LABEL_RADII = [0.79, 0.875, 0.92, 0.89, 0.817, 0.79]
lx, ly = [], []
for i, rr in enumerate(LABEL_RADII):
    q = project((edges[i] + edges[i + 1]) / 2, rr)
    lx.append(q[0])
    ly.append(q[1])
p2.text(lx, ly, text=PIE_LABELS, text_font=value(SERIF), text_font_size="40px", text_color="black",
        text_align="center", text_baseline="middle")

COL_X = [1729, 2069, 2411]
ROW_Y = [928, 987]
TXT_DX = 19
mx, my, tx, ty = [], [], [], []
for i in range(len(CATEGORIES)):
    mx.append(COL_X[i % 3]); my.append(ROW_Y[i // 3])
    tx.append(COL_X[i % 3] + TXT_DX); ty.append(ROW_Y[i // 3])
p2.scatter(mx, my, marker="square", size=14, fill_color=COLORS, line_color=None)
p2.text(tx, ty, text=CATEGORIES, text_font=value(SERIF), text_font_size="40.5px", text_color="black",
        text_align="left", text_baseline="middle")

# ---------- captions ----------
p3 = figure(width=2829, height=170, output_backend="svg", toolbar_location=None,
            x_range=Range1d(0, 2829), y_range=Range1d(1400, 1230),
            x_axis_location=None, y_axis_location=None,
            min_border_left=0, min_border_right=0, min_border_top=0, min_border_bottom=0,
            background_fill_color="white", border_fill_color="white")
p3.grid.visible = False
p3.outline_line_color = None
CAP_X = [778, 778, 2212, 2212]
CAP_Y = [1279, 1346, 1279, 1346]
p3.text(CAP_X, CAP_Y, text=CAPTIONS_A + CAPTIONS_B, text_font=value(SERIF), text_font_size="58px",
        text_color="black", text_align="center", text_baseline="middle")

open("out.html", "w").write(file_html(column(row(p1, p2), p3), INLINE))
